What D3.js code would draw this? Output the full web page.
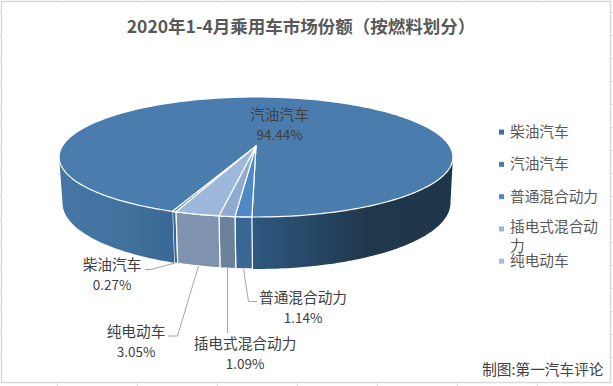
<!DOCTYPE html>
<html>
<head>
<meta charset="utf-8">
<script src="https://cdn.jsdelivr.net/npm/d3@7"></script>
<style>
  html, body { margin: 0; padding: 0; background: #fff; }
  svg { display: block; }
  text { font-family: "Noto Sans CJK SC", sans-serif; }
</style>
</head>
<body>
<script>
var categories = ["柴油汽车", "汽油汽车", "普通混合动力", "插电式混合动力", "纯电动车"];
var shares = [0.27, 94.44, 1.14, 1.09, 3.05];
var topColors = ["#3f6f9b", "#4a7dad", "#4f89c4", "#8fabd0", "#9db8da"];
var title = "2020年1-4月乘用车市场份额（按燃料划分）";
var credit = "制图:第一汽车评论";

var width = 613, height = 386;
var cx = 256, cy = 146, radius = 193.6;
var tilt = 58, persp = 0.183;   // fake the excel 3d view

var svg = d3.select("body").append("svg")
    .attr("width", width)
    .attr("height", height);

// worksheet gridlines around the chart
var grid = svg.append("g").attr("stroke", "#d9d9d9").attr("fill", "none");
grid.append("rect").attr("x", 1.5).attr("y", 1.5).attr("width", 609).attr("height", 381).attr("stroke-width", 1.5);
d3.range(57, 600, 80).forEach(function(x) {
  grid.append("line").attr("x1", x + .5).attr("x2", x + .5).attr("y1", 0).attr("y2", 1.5);
  grid.append("line").attr("x1", x + .5).attr("x2", x + .5).attr("y1", 382.5).attr("y2", height);
});
d3.range(12, 380, 23).forEach(function(y) {
  grid.append("line").attr("x1", 0).attr("x2", 1.5).attr("y1", y + .5).attr("y2", y + .5);
  grid.append("line").attr("x1", 610.5).attr("x2", width).attr("y1", y + .5).attr("y2", y + .5);
});

svg.append("text")
    .attr("x", 301)
    .attr("y", 33)
    .attr("text-anchor", "middle")
    .attr("font-size", 17.5)
    .attr("font-weight", "bold")
    .attr("fill", "#595959")
    .text(title);

// angle is clockwise from the top of the disc
function projectTop(angle) {
  var px = Math.sin(angle);
  var py = -Math.cos(angle);
  var w = 1 - persp * py;
  return [cx + radius * px / w, cy + tilt * py / w];
}

// the lower disc is a bit narrower and deeper than the top one
function projectBottom(angle) {
  var px = Math.sin(angle);
  var py = -Math.cos(angle);
  var w = 1 - persp * py;
  return [cx + 0.5 + 0.985 * radius * px / w, cy + 45 + 63.7 * py / w];
}

var pie = d3.pie().sort(null).value(function(d) { return d; })
    .startAngle(200 * Math.PI / 180)
    .endAngle((200 + 360) * Math.PI / 180);
var arcs = pie(shares);

var line = d3.line();

function rim(a0, a1, project) {
  var n = Math.max(2, Math.ceil(Math.abs(a1 - a0) * 60));
  return d3.range(n + 1).map(function(i) {
    return project(a0 + (a1 - a0) * i / n);
  });
}

var defs = svg.append("defs");
function gradient(id, stops) {
  var g = defs.append("linearGradient").attr("id", id)
      .attr("gradientUnits", "userSpaceOnUse")
      .attr("x1", 59).attr("x2", 456).attr("y1", 0).attr("y2", 0);
  stops.forEach(function(s) {
    g.append("stop").attr("offset", s[0]).attr("stop-color", s[1]);
  });
}
gradient("sideMain", [[0, "#4576a5"], [0.15, "#42739f"], [0.29, "#386893"], [0.49, "#2e5880"], [0.78, "#20374c"], [1, "#1f364a"]]);
gradient("sidePlug", [[0, "#6b819d"], [1, "#6b819d"]]);
gradient("sideEv", [[0, "#8397b3"], [1, "#788ca6"]]);
gradient("sideHev", [[0, "#3a6894"], [1, "#3a6894"]]);
gradient("sideDiesel", [[0, "#3a6a96"], [1, "#3a6a96"]]);
var sideFills = ["url(#sideDiesel)", "url(#sideMain)", "url(#sideHev)", "url(#sidePlug)", "url(#sideEv)"];

// front wall, only the part of each slice facing the viewer
var wall = svg.append("g").attr("stroke", "#fff").attr("stroke-width", 1.2).attr("stroke-linejoin", "round");
var frontFrom = 100.5 * Math.PI / 180, frontTo = 259.5 * Math.PI / 180;
arcs.forEach(function(d, i) {
  var ranges = [];
  var step = 2 * Math.PI;
  [0, 1].forEach(function(k) {
    var lo = Math.max(d.startAngle, frontFrom + k * step);
    var hi = Math.min(d.endAngle, frontTo + k * step);
    if (hi > lo) ranges.push([lo, hi]);
  });
  ranges.forEach(function(r) {
    var upper = rim(r[0], r[1], projectTop);
    var lower = rim(r[1], r[0], projectBottom);
    wall.append("path")
        .attr("d", line(upper.concat(lower)) + "Z")
        .attr("fill", sideFills[i])
        .attr("stroke", i == 1 ? "none" : "#fff");
  });
});

// top face
var face = svg.append("g").attr("stroke", "#fff").attr("stroke-width", 1.2).attr("stroke-linejoin", "round");
arcs.forEach(function(d, i) {
  var pts = [[cx, cy]].concat(rim(d.startAngle, d.endAngle, projectTop));
  face.append("path")
      .attr("d", line(pts) + "Z")
      .attr("fill", topColors[i]);
});

// data labels
var labelX = [112, 279.5, 303, 245, 136];
var labelY = [270, 120, 303, 349, 337];
var textColor = "#404040";
var labels = svg.append("g").attr("text-anchor", "middle").attr("fill", textColor).attr("font-size", 14.67);
arcs.forEach(function(d, i) {
  labels.append("text").attr("x", labelX[i]).attr("y", labelY[i]).text(categories[i]);
  labels.append("text").attr("x", labelX[i]).attr("y", labelY[i] + 20)
      .attr("font-family", "Open Sans").attr("font-size", 13.5)
      .text(shares[i].toFixed(2) + "%");
});

// leader lines
var leaders = [
  [[145, 269.5], [151, 269.5], [175, 263]],
  [[243.5, 269], [248.5, 301.5], [257, 301.5]],
  [[227.5, 268], [227.5, 333]],
  [[168, 336], [177.5, 336], [198.5, 266]]
];
var leaderG = svg.append("g").attr("fill", "none").attr("stroke", "#a6a6a6").attr("stroke-width", 1);
leaders.forEach(function(l) { leaderG.append("path").attr("d", line(l)); });

// legend
var legendY = d3.scaleBand().domain(categories).range([116, 277.3]);
var swatches = ["#3f6f9b", "#4a7eb0", "#5089c2", "#9ab5d8", "#a2bce0"];
var legendG = svg.append("g").attr("fill", "#595959").attr("font-size", 14.67);
categories.forEach(function(c, i) {
  var y = legendY(c) + legendY.bandwidth() / 2;
  legendG.append("rect").attr("x", 499).attr("y", y - 2.5).attr("width", 5).attr("height", 5).attr("fill", swatches[i]);
  if (i == 3) {
    legendG.append("text").attr("x", 510).attr("y", y + 3).text("插电式混合动");
    legendG.append("text").attr("x", 510).attr("y", y + 22.5).text("力");
  } else {
    legendG.append("text").attr("x", 510).attr("y", y + 5).text(c);
  }
});

svg.append("text")
    .attr("x", 603.5)
    .attr("y", 375)
    .attr("text-anchor", "end")
    .attr("font-size", 14.67)
    .attr("fill", "#404040")
    .text(credit);
</script>
</body>
</html>
